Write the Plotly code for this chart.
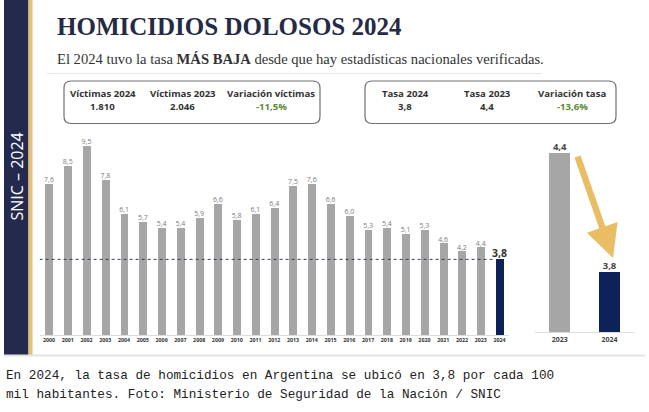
import plotly.graph_objects as go

# ---------------- data ----------------
years = [str(y) for y in range(2000, 2025)]
rates = [7.6, 8.5, 9.5, 7.8, 6.1, 5.7, 5.4, 5.4, 5.9, 6.6, 5.8, 6.1, 6.4,
         7.5, 7.6, 6.6, 6.0, 5.3, 5.4, 5.1, 5.3, 4.6, 4.2, 4.4, 3.8]
cmp_years = ["2023", "2024"]
cmp_rates = [4.4, 3.8]

box1_heads = ["Víctimas 2024", "Víctimas 2023", "Variación víctimas"]
box1_vals = ["1.810", "2.046", "-11,5%"]
box2_heads = ["Tasa 2024", "Tasa 2023", "Variación tasa"]
box2_vals = ["3,8", "4,4", "-13,6%"]

title = "HOMICIDIOS DOLOSOS 2024"
subtitle = "El 2024 tuvo la tasa <b>MÁS BAJA</b> desde que hay estadísticas nacionales verificadas."
side_label = "SNIC – 2024"
caption = ["En 2024, la tasa de homicidios en Argentina se ubicó en 3,8 por cada 100",
           "mil habitantes. Foto: Ministerio de Seguridad de la Nación / SNIC"]

# ---------------- styles ----------------
W, H = 649, 412
NAVY = "#232a4d"
GOLD = "#e3bf78"
BAR_GRAY = "#a6a6a6"
BAR_NAVY = "#0d2259"
ARROW = "#e8bd63"
SANS = "Open Sans"


def px(x):
    return x / W


def py(y):
    return 1 - y / H


def fmt(v):
    return f"{v:.1f}".replace(".", ",")


fig = go.Figure()

# main bars
colors = [BAR_GRAY] * (len(years) - 1) + [BAR_NAVY]
fig.add_trace(go.Bar(x=years, y=rates, marker=dict(color=colors, line=dict(width=0)),
                     width=0.42, xaxis="x", yaxis="y", hoverinfo="skip"))
labels = [fmt(v) for v in rates]
labels[-1] = "<b>" + labels[-1] + "</b>"
lab_sizes = [7] * (len(years) - 1) + [10.5]
lab_colors = ["#7a7a7a"] * (len(years) - 1) + ["#333333"]
fig.add_trace(go.Scatter(x=years, y=rates, mode="text", text=labels,
                         textposition="top center",
                         textfont=dict(size=lab_sizes, color=lab_colors, family=SANS),
                         xaxis="x", yaxis="y", hoverinfo="skip", cliponaxis=False))

# comparison bars
fig.add_trace(go.Bar(x=cmp_years, y=cmp_rates, marker=dict(color=[BAR_GRAY, BAR_NAVY], line=dict(width=0)),
                     width=0.42, xaxis="x2", yaxis="y2", hoverinfo="skip"))
fig.add_trace(go.Scatter(x=cmp_years, y=cmp_rates, mode="text",
                         text=["<b>" + fmt(v) + "</b>" for v in cmp_rates],
                         textposition="top center",
                         textfont=dict(size=9.5, color="#444444", family=SANS),
                         xaxis="x2", yaxis="y2", hoverinfo="skip", cliponaxis=False))

shapes = []
# left strips
shapes.append(dict(type="rect", xref="paper", yref="paper", x0=px(4), x1=px(28.5), y0=py(355), y1=py(0),
                   fillcolor=NAVY, line=dict(width=0), layer="below"))
shapes.append(dict(type="rect", xref="paper", yref="paper", x0=px(28.5), x1=px(32.5), y0=py(355), y1=py(0),
                   fillcolor=GOLD, line=dict(width=0), layer="below"))
# bottom grey rule of the picture
shapes.append(dict(type="line", xref="paper", yref="paper", x0=px(4), x1=px(645), y0=py(355.5), y1=py(355.5),
                   line=dict(color="#e3e3e3", width=2)))
# rule under subtitle
shapes.append(dict(type="line", xref="paper", yref="paper", x0=px(47), x1=px(542), y0=py(73.5), y1=py(73.5),
                   line=dict(color="#e6e6e6", width=1)))


def rounded(x0, y0, x1, y1, r):
    return (f"M {px(x0 + r)} {py(y0)} L {px(x1 - r)} {py(y0)} Q {px(x1)} {py(y0)} {px(x1)} {py(y0 + r)} "
            f"L {px(x1)} {py(y1 - r)} Q {px(x1)} {py(y1)} {px(x1 - r)} {py(y1)} "
            f"L {px(x0 + r)} {py(y1)} Q {px(x0)} {py(y1)} {px(x0)} {py(y1 - r)} "
            f"L {px(x0)} {py(y0 + r)} Q {px(x0)} {py(y0)} {px(x0 + r)} {py(y0)} Z")


for (bx0, bx1) in [(64, 320), (365, 616)]:
    shapes.append(dict(type="path", xref="paper", yref="paper", path=rounded(bx0, 81, bx1, 123.5, 7),
                       fillcolor="white", line=dict(color="#707070", width=1.2)))

# reference dotted line at 2024 level
shapes.append(dict(type="line", xref="x", yref="y", x0=-0.5, x1=len(years) - 1 - 0.21,
                   y0=rates[-1], y1=rates[-1], line=dict(color="#3a3f55", width=1, dash="dot")))

ann = []
ann.append(dict(text="<b>" + title + "</b>", x=px(55), y=py(27), xref="paper", yref="paper",
                xanchor="left", yanchor="middle",
                showarrow=False, font=dict(family="Liberation Serif", size=25, color="#262b45")))
ann.append(dict(text=subtitle, x=px(55), y=py(58.5), xref="paper", yref="paper", xanchor="left", yanchor="middle",
                showarrow=False, font=dict(family="Liberation Serif", size=14.6, color="#333333")))
ann.append(dict(text=side_label, x=px(16.5), y=py(177), xref="paper", yref="paper", xanchor="center",
                yanchor="middle", textangle=-90, showarrow=False,
                font=dict(family=SANS, size=16, color="white")))

for heads, vals, xs in [(box1_heads, box1_vals, [103, 183, 271]), (box2_heads, box2_vals, [405, 487, 572])]:
    for i, (h, v, xc) in enumerate(zip(heads, vals, xs)):
        ann.append(dict(text="<b>" + h + "</b>", x=px(xc), y=py(93.5), xref="paper", yref="paper",
                        xanchor="center", yanchor="middle", showarrow=False,
                        font=dict(family=SANS, size=9.6, color="#333333")))
        ann.append(dict(text="<b>" + v + "</b>", x=px(xc), y=py(106), xref="paper", yref="paper",
                        xanchor="center", yanchor="middle", showarrow=False,
                        font=dict(family=SANS, size=9.6, color="#5a8a3a" if i == 2 else "#333333")))

# arrow
ann.append(dict(text="", x=px(613), y=py(258), xref="paper", yref="paper", ax=-36, ay=-103,
                showarrow=True, arrowhead=2, arrowsize=1.0, arrowwidth=6.5, arrowcolor=ARROW, standoff=0))

for i, line in enumerate(caption):
    ann.append(dict(text=line, x=px(4), y=py(375 + 19 * i), xref="paper", yref="paper", xanchor="left",
                    yanchor="middle", showarrow=False,
                    font=dict(family="Liberation Mono", size=12.7, color="#222222")))

fig.update_layout(
    width=W, height=H, margin=dict(l=0, r=0, t=0, b=0),
    paper_bgcolor="white", plot_bgcolor="rgba(0,0,0,0)", showlegend=False,
    bargap=0,
    xaxis=dict(domain=[px(39.6), px(508.9)], type="category", range=[-0.5, len(years) - 0.5],
               showline=True, linecolor="#dcdcdc", linewidth=1, ticks="", showgrid=False,
               tickfont=dict(family=SANS, size=5.3, color="#333333", weight="bold"),
               anchor="y", fixedrange=True),
    yaxis=dict(domain=[py(335), py(136)], range=[0, 10], visible=False, fixedrange=True),
    xaxis2=dict(domain=[px(534.8), px(634.4)], type="category", range=[-0.5, 1.5],
                showline=True, linecolor="#dcdcdc", linewidth=1, ticks="", showgrid=False,
                tickfont=dict(family=SANS, size=7, color="#444444", weight="bold"),
                anchor="y2", fixedrange=True),
    yaxis2=dict(domain=[py(332.3), py(140)], range=[3.494, 4.464], visible=False, fixedrange=True),
    shapes=shapes, annotations=ann,
)

fig.write_html("out.html", config={"displayModeBar": False},
               post_script="document.body.style.margin='0';document.body.style.overflow='hidden';")
